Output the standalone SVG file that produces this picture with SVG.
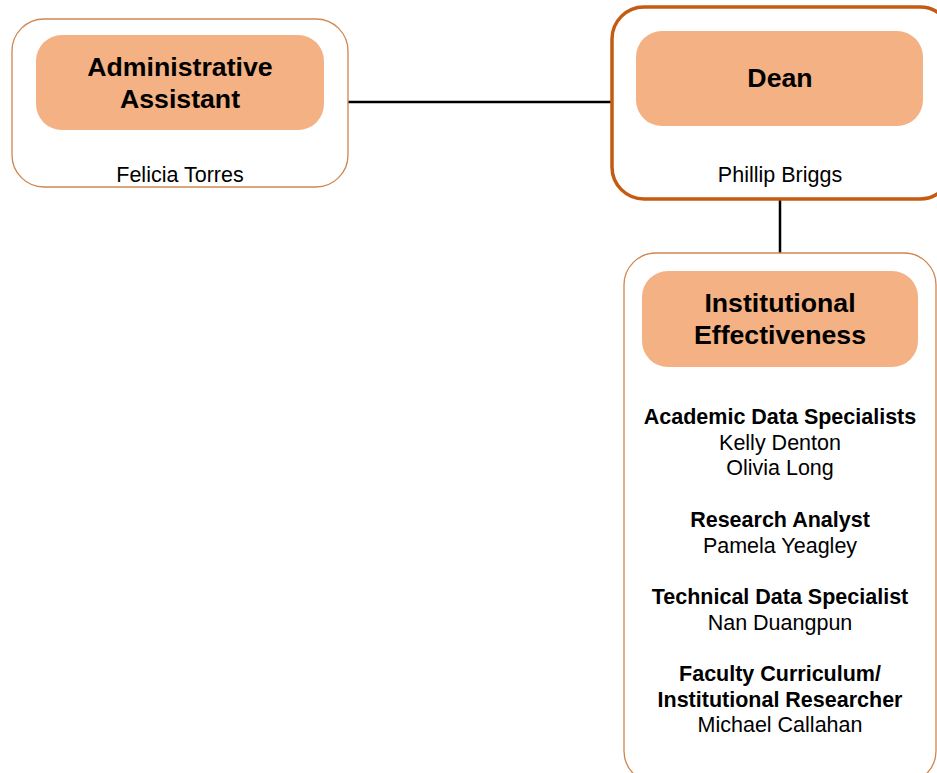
<svg xmlns="http://www.w3.org/2000/svg" width="937" height="773" viewBox="0 0 937 773">
<style>
.outer{fill:#fff;stroke:#D0864F;stroke-width:1.3}
.outerB{fill:#fff;stroke:#C55A11;stroke-width:3.5}
.inner{fill:#F4B183}
.h{font-family:"Liberation Sans",Arial,sans-serif;font-weight:bold;font-size:26.7px;fill:#000;text-anchor:middle}
.t{font-family:"Liberation Sans",Arial,sans-serif;font-size:21.5px;fill:#000;text-anchor:middle}
.b{font-weight:bold}
.conn{stroke:#000;stroke-width:2.5;fill:none}
</style>
<rect width="937" height="773" fill="#fff"/>
<g id="connectors">
<line class="conn" x1="348" y1="102" x2="612" y2="102"/>
<line class="conn" x1="780" y1="199" x2="780" y2="253"/>
</g>
<g id="admin">
<rect class="outer" x="12" y="19" width="336" height="168" rx="32"/>
<rect class="inner" x="36" y="35" width="288" height="95" rx="26"/>
<text class="h" x="180" y="76">Administrative</text>
<text class="h" x="180" y="108">Assistant</text>
<text class="t" x="180" y="182">Felicia Torres</text>
</g>
<g id="dean">
<rect class="outerB" x="612" y="7" width="340" height="192" rx="32"/>
<rect class="inner" x="636" y="31" width="287" height="95" rx="26"/>
<text class="h" x="780" y="87">Dean</text>
<text class="t" x="780" y="182">Phillip Briggs</text>
</g>
<g id="ie">
<rect class="outer" x="624" y="253" width="312" height="530" rx="32"/>
<rect class="inner" x="642" y="271" width="276" height="96" rx="26"/>
<text class="h" x="780" y="312">Institutional</text>
<text class="h" x="780" y="344">Effectiveness</text>
<text class="t b" x="780" y="424">Academic Data Specialists</text>
<text class="t" x="780" y="450">Kelly Denton</text>
<text class="t" x="780" y="475">Olivia Long</text>
<text class="t b" x="780" y="527">Research Analyst</text>
<text class="t" x="780" y="553">Pamela Yeagley</text>
<text class="t b" x="780" y="604">Technical Data Specialist</text>
<text class="t" x="780" y="630">Nan Duangpun</text>
<text class="t b" x="780" y="681">Faculty Curriculum/</text>
<text class="t b" x="780" y="707">Institutional Researcher</text>
<text class="t" x="780" y="732">Michael Callahan</text>
</g>
</svg>
